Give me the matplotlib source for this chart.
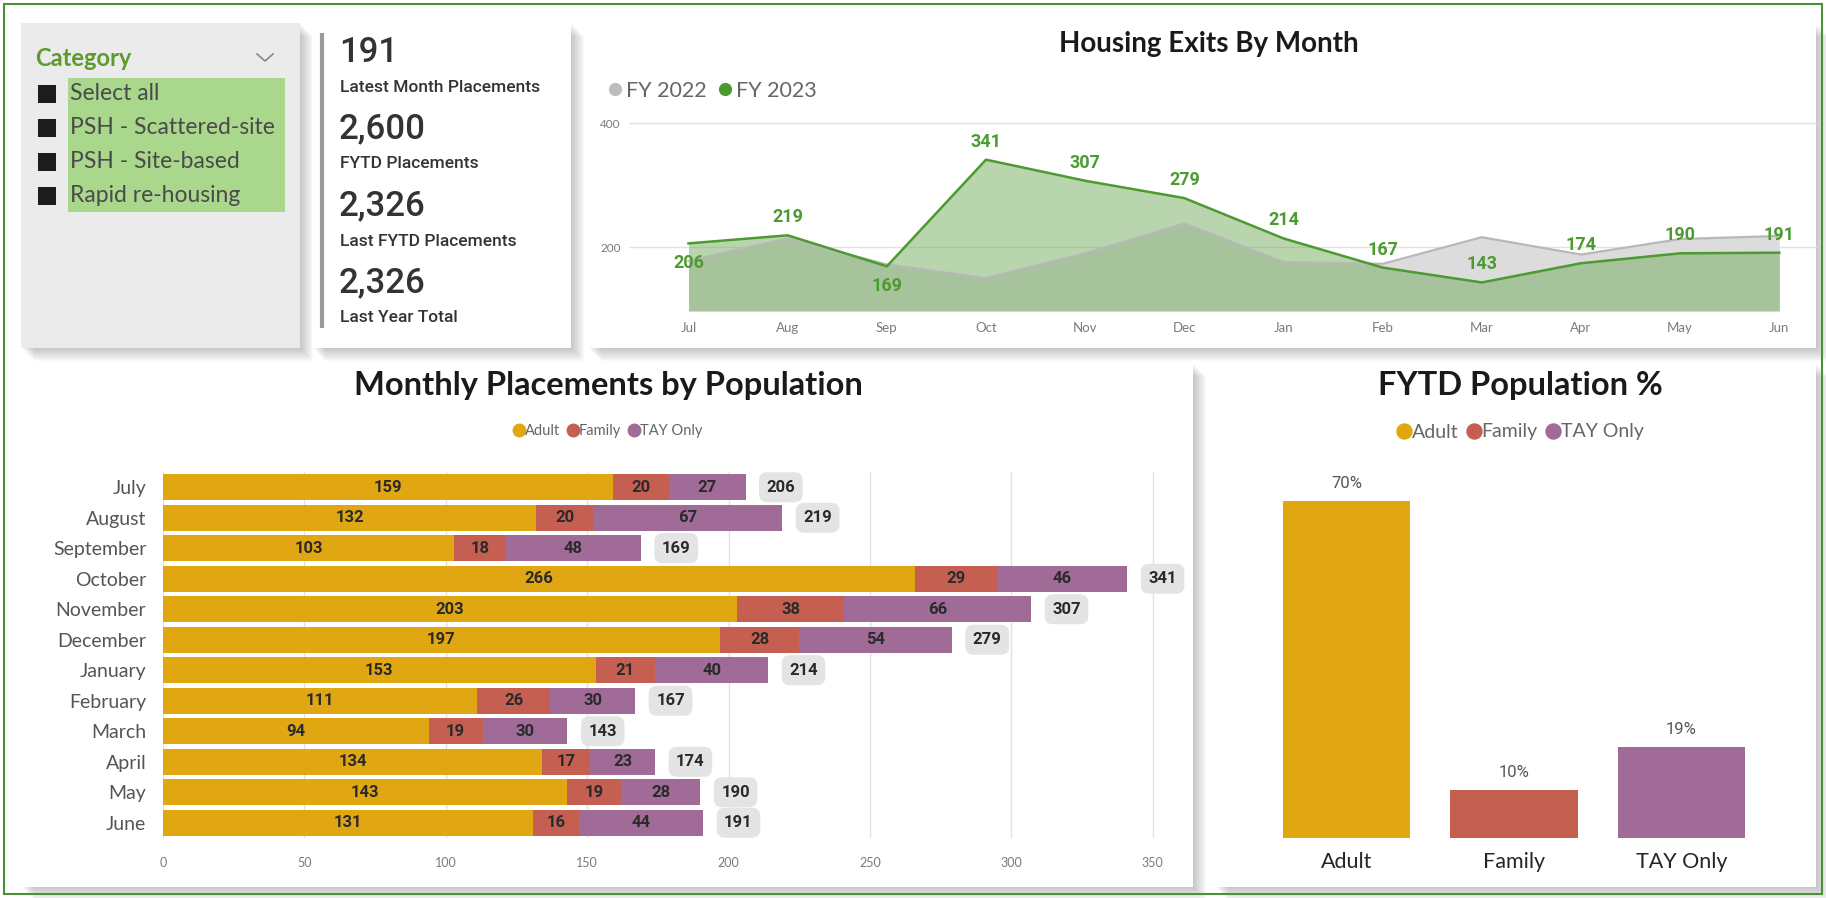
import matplotlib
matplotlib.use("Agg")
import matplotlib.pyplot as plt
from matplotlib.patches import Rectangle
from matplotlib.lines import Line2D

W, H = 1826, 898

# ---- data ----
slicer_title = "Category"
slicer_items = ["Select all", "PSH - Scattered-site", "PSH - Site-based", "Rapid re-housing"]

kpi_values = ["191", "2,600", "2,326", "2,326"]
kpi_labels = ["Latest Month Placements", "FYTD Placements", "Last FYTD Placements", "Last Year Total"]

month_abbr = ["Jul", "Aug", "Sep", "Oct", "Nov", "Dec", "Jan", "Feb", "Mar", "Apr", "May", "Jun"]
fy2022 = [178, 214, 172, 150, 190, 238, 176, 173, 216, 188, 213, 218]
fy2023 = [206, 219, 169, 341, 307, 279, 214, 167, 143, 174, 190, 191]

months = ["July", "August", "September", "October", "November", "December",
          "January", "February", "March", "April", "May", "June"]
adult = [159, 132, 103, 266, 203, 197, 153, 111, 94, 134, 143, 131]
family = [20, 20, 18, 29, 38, 28, 21, 26, 19, 17, 19, 16]
tay = [27, 67, 48, 46, 66, 54, 40, 30, 30, 23, 28, 44]

populations = ["Adult", "Family", "TAY Only"]
pop_pct = [70, 10, 19]

# ---- style ----
C_ADULT, C_FAM, C_TAY = "#E1A712", "#C55F52", "#A06B96"
C_GREEN = "#4C9A30"
FONT = "Lato"
NUMF = "Roboto"
plt.rcParams["font.family"] = [FONT, "DejaVu Sans"]

fig = plt.figure(figsize=(W / 100, H / 100), dpi=100)
fig.patch.set_facecolor("white")

bg = fig.add_axes([0, 0, 1, 1])
bg.set_xlim(0, W)
bg.set_ylim(H, 0)
bg.axis("off")


def ax_at(x0, y0, x1, y1):
    return fig.add_axes([x0 / W, 1 - y1 / H, (x1 - x0) / W, (y1 - y0) / H])


def panel(x0, y0, x1, y1, fc="white"):
    # soft drop shadow to the bottom right
    for off in range(1, 14):
        bg.add_patch(Rectangle((x0 + off, y0 + off), x1 - x0, y1 - y0,
                               fc="#5a5a5a", ec="none", alpha=0.028))
    bg.add_patch(Rectangle((x0, y0), x1 - x0, y1 - y0, fc=fc, ec="none"))


# outer border
bg.add_patch(Rectangle((4, 4), W - 8, H - 8, fc="none", ec="#4E8F3A", lw=1.5, zorder=5))

panel(21, 23, 300, 348, fc="#EBEBEB")
panel(312, 23, 571, 348)
panel(588, 23, 1816, 348)
panel(21, 363, 1193, 887)
panel(1215, 363, 1816, 887)

# ---- slicer ----
bg.text(35, 59, slicer_title, fontsize=17, fontweight="bold", color="#5E9A2C", va="center")
bg.plot([257, 265, 273], [54, 61, 54], color="#888888", lw=1.2)
bg.add_patch(Rectangle((68, 78), 217, 134, fc="#A9D88C", ec="none"))
for i, item in enumerate(slicer_items):
    yy = 94 + i * 34
    bg.add_patch(Rectangle((38, yy - 9), 18, 18, fc="#1C1C1C", ec="none"))
    bg.text(70, yy, item, fontsize=16.5, color="#4A4A4A", va="center")

# ---- KPI card ----
bg.plot([322, 322], [33, 328], color="#9A9A9A", lw=3, solid_capstyle="butt")
for i, (v, lab) in enumerate(zip(kpi_values, kpi_labels)):
    y0 = 52 + i * 77
    bg.text(339, y0, v, fontsize=25, family=NUMF, fontweight="medium",
            color="#333333", va="center")
    bg.text(340, y0 + 35, lab, fontsize=12.5, family=NUMF, fontweight="medium",
            color="#333333", va="center")

# ---- line chart ----
bg.text(1209, 44, "Housing Exits By Month", fontsize=20, fontweight="bold",
        color="#1A1A1A", ha="center", va="center")
lax = ax_at(629, 115, 1817, 311)
x = range(len(month_abbr))
ybase = 97
lax.fill_between(x, fy2022, ybase, color="#DCDCDC", lw=0)
lax.plot(x, fy2022, color="#B8B8B8", lw=1.6)
lax.fill_between(x, fy2023, ybase, color="#74AC5C", alpha=0.5, lw=0)
lax.plot(x, fy2023, color=C_GREEN, lw=1.8)
lax.set_xlim(-0.6, 11.38)
lax.set_ylim(ybase, 413)
lax.set_yticks([200, 400])
lax.set_yticklabels(["200", "400"])
lax.yaxis.grid(True, color="#E2E2E2", lw=1)
lax.set_axisbelow(True)
lax.set_xticks(list(x))
lax.set_xticklabels(month_abbr)
lax.tick_params(length=0, labelsize=9.5, colors="#7A7A7A", pad=8)
lax.tick_params(axis="y", pad=6, labelsize=8.5)
for s in lax.spines.values():
    s.set_visible(False)
lax.patch.set_alpha(0)
below = {0, 2}
for i, v in enumerate(fy2023):
    dy = -20 if i in below else 18
    lax.annotate(str(v), (i, v), xytext=(0, dy), textcoords="offset pixels",
                 ha="center", va="center", fontsize=13, fontweight="bold",
                 family=NUMF, color=C_GREEN)
leg_h = [Line2D([], [], marker="o", ls="", color="#BDBDBD", ms=8.5),
         Line2D([], [], marker="o", ls="", color=C_GREEN, ms=8.5)]
fig.legend(leg_h, ["FY 2022", "FY 2023"], loc="center left",
           bbox_to_anchor=(597 / W, 1 - 91 / H), ncol=2, frameon=False,
           handletextpad=0.05, columnspacing=0.4, fontsize=15.5,
           labelcolor="#666666", borderaxespad=0, handlelength=0.9)

# ---- stacked bar chart ----
bg.text(608, 386, "Monthly Placements by Population", fontsize=23.5, fontweight="bold",
        color="#1A1A1A", ha="center", va="center")
pop_h = [Line2D([], [], marker="o", ls="", color=c, ms=9) for c in (C_ADULT, C_FAM, C_TAY)]
fig.legend(pop_h, populations, loc="center", bbox_to_anchor=(608 / W, 1 - 431 / H),
           ncol=3, frameon=False, handletextpad=0.0, columnspacing=0.5, fontsize=10.5,
           labelcolor="#666666", borderaxespad=0, handlelength=0.8)

bax = ax_at(163, 472, 1181, 838)
yy = range(len(months))
left2 = [a + f for a, f in zip(adult, family)]
totals = [a + f + t for a, f, t in zip(adult, family, tay)]
bax.barh(yy, adult, height=0.86, color=C_ADULT)
bax.barh(yy, family, left=adult, height=0.86, color=C_FAM)
bax.barh(yy, tay, left=left2, height=0.86, color=C_TAY)
for i in yy:
    for start, val in [(0, adult[i]), (adult[i], family[i]), (left2[i], tay[i])]:
        bax.text(start + val / 2, i, str(val), ha="center", va="center", fontsize=12,
                 fontweight="bold", family=NUMF, color="#2A2A2A")
    bax.text(totals[i] + 12.5, i, str(totals[i]), ha="center", va="center", fontsize=12,
             fontweight="bold", family=NUMF, color="#2A2A2A",
             bbox=dict(boxstyle="round,pad=0.45,rounding_size=0.5", fc="#E4E4E4", ec="none"))
bax.set_xlim(0, 360)
bax.set_ylim(11.5, -0.5)
bax.set_xticks([0, 50, 100, 150, 200, 250, 300, 350])
bax.set_yticks(list(yy))
bax.set_yticklabels(months)
bax.xaxis.grid(True, color="#E2E2E2", lw=1)
bax.set_axisbelow(True)
bax.tick_params(axis="x", length=0, labelsize=9, colors="#7A7A7A", pad=14)
bax.tick_params(axis="y", length=0, labelsize=14, colors="#555555", pad=12)
for s in bax.spines.values():
    s.set_visible(False)
bax.patch.set_alpha(0)

# ---- FYTD population % ----
bg.text(1520, 386, "FYTD Population %", fontsize=23.5, fontweight="bold",
        color="#1A1A1A", ha="center", va="center")
fig.legend(pop_h, populations, loc="center", bbox_to_anchor=(1520 / W, 1 - 432 / H),
           ncol=3, frameon=False, handletextpad=0.0, columnspacing=0.4, fontsize=14,
           labelcolor="#666666", borderaxespad=0, handlelength=0.8,
           markerscale=1.2)

pax = ax_at(1263, 453, 1765, 838)
px = range(len(populations))
pax.bar(px, pop_pct, width=0.76, color=[C_ADULT, C_FAM, C_TAY])
for i, v in zip(px, pop_pct):
    pax.annotate(f"{v}%", (i, v), xytext=(0, 10), textcoords="offset pixels",
                 ha="center", va="bottom", fontsize=12, family=NUMF, color="#555555")
pax.set_xlim(-0.5, 2.5)
pax.set_ylim(0, 80)
pax.set_xticks(list(px))
pax.set_xticklabels(populations)
pax.set_yticks([])
pax.tick_params(axis="x", length=0, labelsize=15.5, colors="#252525", pad=10)
for s in pax.spines.values():
    s.set_visible(False)
pax.patch.set_alpha(0)

fig.savefig("out.png", dpi=100)
